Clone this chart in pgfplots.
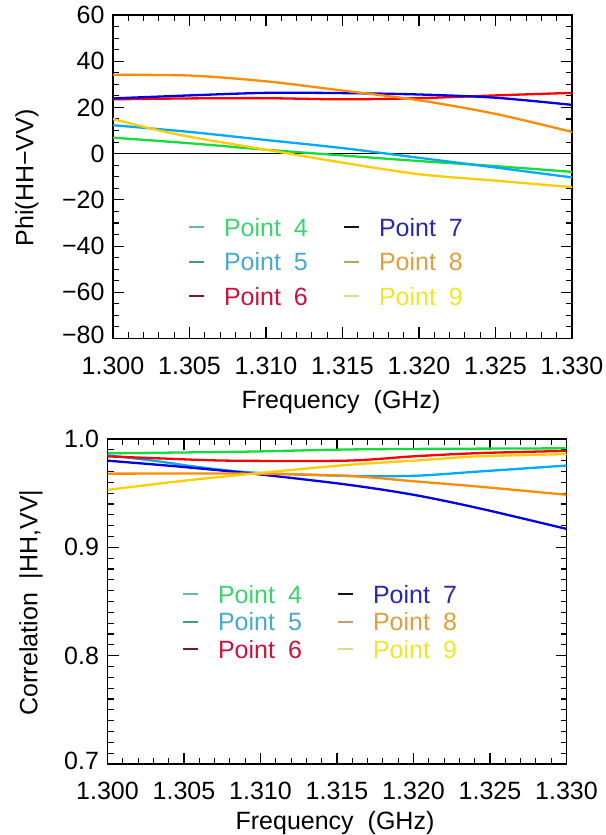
\documentclass[border=0pt]{standalone}
\usepackage{fontspec}
\setmainfont{Liberation Sans}
\usepackage{pgfplots}
\pgfplotsset{compat=1.18}

\definecolor{c4}{RGB}{20,220,60}
\definecolor{c5}{RGB}{0,170,255}
\definecolor{c6}{RGB}{255,0,0}
\definecolor{c7}{RGB}{0,0,230}
\definecolor{c8}{RGB}{255,140,0}
\definecolor{c9}{RGB}{255,205,0}
% legend dash colours
\definecolor{d4}{RGB}{100,190,140}
\definecolor{d5}{RGB}{60,160,120}
\definecolor{d6}{RGB}{130,20,40}
\definecolor{d7}{RGB}{20,20,30}
\definecolor{d8}{RGB}{190,160,100}
\definecolor{d9}{RGB}{220,220,140}
% legend text colours
\definecolor{t4}{RGB}{60,210,110}
\definecolor{t5}{RGB}{70,170,200}
\definecolor{t6}{RGB}{200,20,60}
\definecolor{t7}{RGB}{40,40,170}
\definecolor{t8}{RGB}{220,160,60}
\definecolor{t9}{RGB}{240,230,40}

\newcommand{\PT}[2]{\makebox[119bp][l]{\textcolor{#1}{Point\hspace{13bp}#2}}}

\pgfplotsset{
  myaxis/.style={
    scale only axis,
    width=459bp,
    xmin=1.300, xmax=1.330,
    xtick={1.300,1.305,1.310,1.315,1.320,1.325,1.330},
    xticklabels={1.300,1.305,1.310,1.315,1.320,1.325,1.330},
    minor x tick num=4,
    tick align=inside,
    xtick pos=both, ytick pos=both,
    major tick length=11bp,
    minor tick length=6bp,
    axis line style={line width=1.3bp, black},
    every tick/.style={line width=1.1bp, black},
    xticklabel style={yshift=-10bp},
    legend columns=2,
    legend cell align=left,
    legend image code/.code={
      \path[draw=none, fill=none] (0bp,0bp) -- (35bp,0bp);
      \draw[##1, line width=2bp] (0bp,0bp) -- (15bp,0bp);
    },
  },
  dat/.style={line width=2.3bp, smooth, tension=0.5, no markers, forget plot},
}

\begin{document}
\fontsize{25bp}{30bp}\selectfont
\begin{tikzpicture}
\useasboundingbox (0,0) rectangle (606bp,835bp);

% ---------------- Top panel ----------------
\begin{axis}[myaxis,
  at={(113bp,496.5bp)}, anchor=south west,
  height=323.5bp,
  ymin=-80, ymax=60,
  ytick={-80,-60,-40,-20,0,20,40,60},
  yticklabels={\raisebox{7bp}{−80},−60,−40,−20,0,20,40,\raisebox{-9bp}{60}},
  minor y tick num=3,
  legend style={draw=none, fill=none, inner sep=0pt,
    at={(axis description cs:0.163,0.372)}, anchor=north west,
    nodes={inner sep=0pt, text height=18bp, text depth=0bp},
    row sep=16.5bp, column sep=0bp},
]
\addplot[black, line width=1.1bp, forget plot] coordinates {(1.300,0) (1.330,0)};
\addplot[dat, c4] coordinates {(1.300,6.9) (1.305,4.5) (1.310,1.7) (1.315,-0.8) (1.320,-3.2) (1.325,-5.4) (1.330,-7.9)};
\addplot[dat, c5] coordinates {(1.300,12.3) (1.305,9.4) (1.310,5.9) (1.315,2.4) (1.320,-1.8) (1.325,-6.0) (1.330,-10.3)};
\addplot[dat, c6] coordinates {(1.300,23.5) (1.305,23.9) (1.310,24.0) (1.315,23.5) (1.320,24.0) (1.325,25.2) (1.330,26.3)};
\addplot[dat, c7] coordinates {(1.300,23.9) (1.305,25.2) (1.310,26.3) (1.315,26.2) (1.320,25.6) (1.325,24.2) (1.330,21.1)};
\addplot[dat, c8] coordinates {(1.300,34.1) (1.305,33.8) (1.310,31.3) (1.315,27.3) (1.320,23.1) (1.325,17.2) (1.330,9.4)};
\addplot[dat, c9] coordinates {(1.300,15.0) (1.3025,10.8) (1.305,7.3) (1.310,1.7) (1.315,-3.9) (1.320,-8.9) (1.325,-11.7) (1.330,-14.5)};
\addlegendimage{d4}\addlegendentry{\PT{t4}{4}}
\addlegendimage{d7}\addlegendentry{\PT{t7}{7}}
\addlegendimage{d5}\addlegendentry{\PT{t5}{5}}
\addlegendimage{d8}\addlegendentry{\PT{t8}{8}}
\addlegendimage{d6}\addlegendentry{\PT{t6}{6}}
\addlegendimage{d9}\addlegendentry{\PT{t9}{9}}
\end{axis}
\node[rotate=90, anchor=center] at (27bp,657bp) {Phi(HH−VV)};
\node[anchor=center] at (341bp,433bp) {Frequency\hspace{14bp}(GHz)};

% ---------------- Bottom panel ----------------
\begin{axis}[myaxis,
  at={(107.5bp,71bp)}, anchor=south west,
  height=325bp,
  ymin=0.7, ymax=1.0,
  ytick={0.7,0.8,0.9,1.0},
  yticklabels={\raisebox{7bp}{0.7},0.8,0.9,\raisebox{-10bp}{1.0}},
  minor y tick num=9,
  legend style={draw=none, fill=none, inner sep=0pt,
    at={(axis description cs:0.162,0.55)}, anchor=north west,
    nodes={inner sep=0pt, text height=18bp, text depth=0bp},
    row sep=9.5bp, column sep=0bp},
]
\addplot[dat, c4] coordinates {(1.300,0.9868) (1.309,0.9883) (1.3167,0.9905) (1.330,0.9914)};
\addplot[dat, c5] coordinates {(1.300,0.985) (1.303,0.980) (1.306,0.974) (1.3095,0.969) (1.3156,0.966) (1.320,0.966) (1.3243,0.970) (1.330,0.9755)};
\addplot[dat, c6] coordinates {(1.300,0.984) (1.3036,0.982) (1.308,0.980) (1.3156,0.980) (1.320,0.984) (1.3243,0.987) (1.330,0.989)};
\addplot[dat, c7] coordinates {(1.300,0.980) (1.3047,0.9745) (1.3095,0.968) (1.3156,0.958) (1.320,0.9485) (1.3243,0.936) (1.330,0.917)};
\addplot[dat, c8] coordinates {(1.300,0.968) (1.3091,0.968) (1.3156,0.966) (1.320,0.961) (1.3243,0.956) (1.330,0.9485)};
\addplot[dat, c9] coordinates {(1.300,0.953) (1.3047,0.961) (1.3095,0.968) (1.3156,0.976) (1.320,0.980) (1.3243,0.984) (1.330,0.986)};
\addlegendimage{d4}\addlegendentry{\PT{t4}{4}}
\addlegendimage{d7}\addlegendentry{\PT{t7}{7}}
\addlegendimage{d5}\addlegendentry{\PT{t5}{5}}
\addlegendimage{d8}\addlegendentry{\PT{t8}{8}}
\addlegendimage{d6}\addlegendentry{\PT{t6}{6}}
\addlegendimage{d9}\addlegendentry{\PT{t9}{9}}
\end{axis}
\node[rotate=90, anchor=center] at (31bp,232.5bp) {Correlation\hspace{14bp}|HH,VV|};
\node[anchor=center] at (335bp,12bp) {Frequency\hspace{14bp}(GHz)};
\end{tikzpicture}
\end{document}
